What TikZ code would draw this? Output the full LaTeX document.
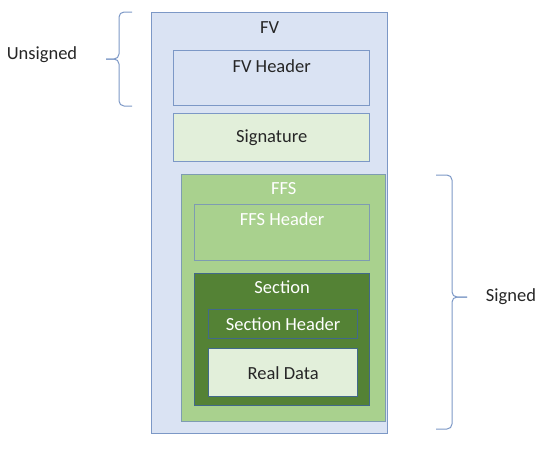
\documentclass[tikz,border=0pt]{standalone}
\usepackage{fontspec}
\setmainfont{Carlito}
\usetikzlibrary{positioning}

\definecolor{fvfill}{HTML}{DAE3F3}
\definecolor{fvline}{HTML}{7C98C6}
\definecolor{sigfill}{HTML}{E2EFDA}
\definecolor{ffsfill}{HTML}{A9D18E}
\definecolor{ffsline}{HTML}{7E9CB2}
\definecolor{secfill}{HTML}{548235}
\definecolor{secline}{HTML}{41698A}
\definecolor{txtdark}{HTML}{262626}

\begin{document}
\begin{tikzpicture}[x=1pt, y=-1pt,
    font=\fontsize{18.5}{21}\selectfont,
    box/.style={draw=fvline, line width=1.3pt, anchor=north west, inner sep=0pt},
    boxtext/.style={text=txtdark, inner sep=0pt},
    boxwhite/.style={text=white, inner sep=0pt},
    bracepath/.style={draw=fvline, line width=1pt, rounded corners=5pt}]

%%% Rahmen
\useasboundingbox (0,0) rectangle (545,448);

%%% Kaesten
\node[box, fill=fvfill, minimum width=236pt, minimum height=421pt] (fv) at (151,12) {};
\node[box, fill=fvfill, minimum width=196pt, minimum height=55pt] (fvhead) at (173,50) {};
\node[box, fill=sigfill, minimum width=196pt, minimum height=48pt] (sig) at (173,113) {};
\node[box, draw=ffsline, fill=ffsfill, minimum width=204pt, minimum height=247pt] (ffs) at (181,174) {};
\node[box, draw=ffsline, fill=ffsfill, minimum width=175pt, minimum height=56pt] (ffshead) at (194,204) {};
\node[box, draw=secline, fill=secfill, minimum width=175pt, minimum height=132pt] (sec) at (194,273) {};
\node[box, draw=secline, fill=secfill, minimum width=149pt, minimum height=29pt] (sechead) at (208,309) {};
\node[box, draw=secline, fill=sigfill, minimum width=149pt, minimum height=48pt] (data) at (208,348) {};

%%% Beschriftungen
\node[boxtext, below=9pt of fv.north] (fvlabel) {FV};
\node[boxtext, below=9pt of fvhead.north] (fvheadlabel) {FV Header};
\node[boxtext] (siglabel) at (sig.center) {Signature};
\node[boxwhite, below=8pt of ffs.north] (ffslabel) {FFS};
\node[boxwhite, below=8pt of ffshead.north] (ffsheadlabel) {FFS Header};
\node[boxwhite, below=7pt of sec.north] (seclabel) {Section};
\node[boxwhite] (secheadlabel) at (sechead.center) {Section Header};
\node[boxtext] (datalabel) at (data.center) {Real Data};

%%% Klammern
\coordinate (utop) at (132,12);
\coordinate (ubot) at (132,106);
\coordinate (utip) at (106,59);
\coordinate (stop) at (436,175);
\coordinate (sbot) at (436,429);
\coordinate (stip) at (467,297);
\draw[bracepath] (utop) -- (119,12) -- (119,59) -- (utip);
\draw[bracepath] (ubot) -- (119,106) -- (119,59) -- (utip);
\draw[bracepath] (stop) -- (452,175) -- (452,297) -- (stip);
\draw[bracepath] (sbot) -- (452,429) -- (452,297) -- (stip);
\node[boxtext] (unsigned) at (42,55) {Unsigned};
\node[boxtext] (signed) at (511,297) {Signed};
\end{tikzpicture}
\end{document}
